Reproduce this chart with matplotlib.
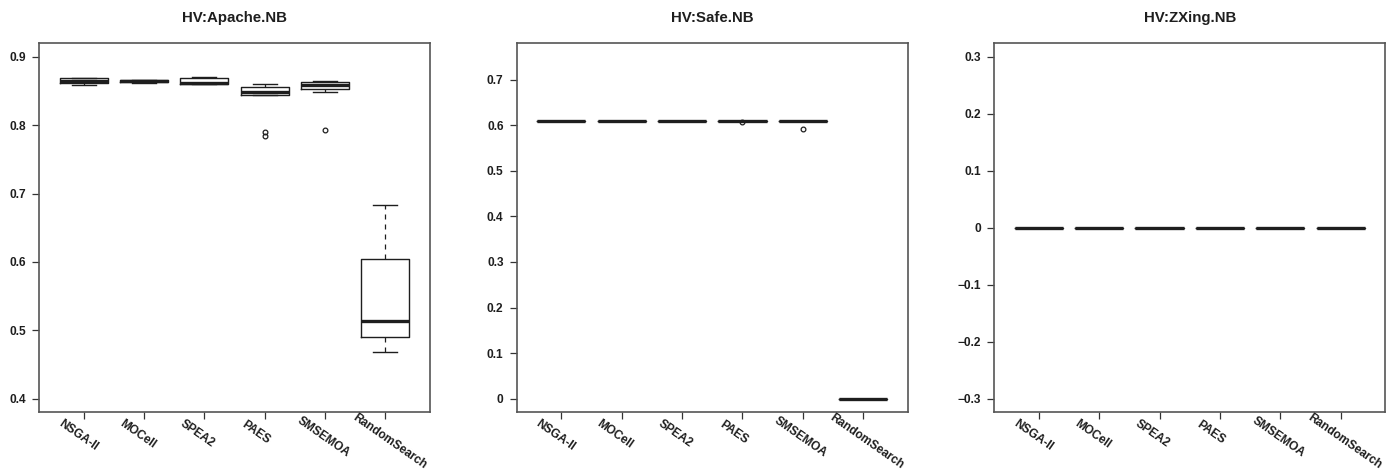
import numpy as np
import matplotlib.pyplot as plt
import matplotlib.transforms as mtransforms

plt.rcParams['font.family'] = ['Liberation Sans', 'DejaVu Sans']

algos = ["NSGA-II", "MOCell", "SPEA2", "PAES", "SMSEMOA", "RandomSearch"]
titles = ["HV:Apache.NB", "HV:Safe.NB", "HV:ZXing.NB"]

# Apache.NB : box stats
apache_whislo = [0.8585, 0.8625, 0.8600, 0.8448, 0.8482, 0.4689]
apache_q1 = [0.8624, 0.8630, 0.8605, 0.8448, 0.8536, 0.4899]
apache_med = [0.8655, 0.8648, 0.8615, 0.8487, 0.8585, 0.5139]
apache_q3 = [0.8685, 0.8665, 0.8685, 0.8565, 0.8633, 0.6038]
apache_whishi = [0.8685, 0.8668, 0.8702, 0.8604, 0.8648, 0.6830]
apache_fliers = [[], [], [], [0.7895, 0.7846], [0.7928], []]

# Safe.NB
safe_med = [0.609, 0.609, 0.609, 0.609, 0.609, 0.0]
safe_fliers = [[], [], [], [0.607], [0.592], []]

# ZXing.NB
zxing_med = [0.0, 0.0, 0.0, 0.0, 0.0, 0.0]

ylims = [(0.4, 0.9), (0.0, 0.75), (-0.3, 0.3)]
yticks = [[0.4, 0.5, 0.6, 0.7, 0.8, 0.9],
          [0, 0.1, 0.2, 0.3, 0.4, 0.5, 0.6, 0.7],
          [-0.3, -0.2, -0.1, 0, 0.1, 0.2, 0.3]]


def make_stats(lo, q1, med, q3, hi, fl):
    out = []
    for i in range(len(med)):
        out.append(dict(whislo=lo[i], q1=q1[i], med=med[i], q3=q3[i],
                        whishi=hi[i], fliers=fl[i]))
    return out


stats = [
    make_stats(apache_whislo, apache_q1, apache_med, apache_q3, apache_whishi, apache_fliers),
    make_stats(safe_med, safe_med, safe_med, safe_med, safe_med, safe_fliers),
    make_stats(zxing_med, zxing_med, zxing_med, zxing_med, zxing_med, [[]] * 6),
]

fig = plt.figure(figsize=(13.99, 4.72), dpi=100)
lefts = [39, 516.7, 994.3]
ink = '#1e1e1e'
frame = '#555555'

for k in range(3):
    ax = fig.add_axes([lefts[k] / 1399, 1 - 412.3 / 472, 391 / 1399, 369 / 472])
    pos = np.arange(1, 7)
    ax.bxp(stats[k], positions=pos, widths=0.8, showfliers=True,
           boxprops=dict(color=ink, linewidth=1.0),
           medianprops=dict(color=ink, linewidth=2.4, solid_capstyle='butt'),
           whiskerprops=dict(color=ink, linewidth=0.9, linestyle=(0, (4, 4))),
           capprops=dict(color=ink, linewidth=1.0),
           flierprops=dict(marker='o', markerfacecolor='none', markeredgecolor=ink,
                           markersize=3.4, markeredgewidth=0.9))
    lo, hi = ylims[k]
    r = hi - lo
    ax.set_ylim(lo - 0.04 * r, hi + 0.04 * r)
    ax.set_xlim(0.26, 6.74)
    ax.set_yticks(yticks[k])
    ax.set_yticklabels([('%g' % v).replace('-', '\u2212') for v in yticks[k]],
                       fontsize=8.6, fontweight='bold', color=ink)
    ax.set_xticks(pos)
    ax.set_xticklabels([])
    ax.tick_params(direction='out', length=5, width=0.9, color='#333333', pad=4.5)
    for s in ax.spines.values():
        s.set_color(frame)
        s.set_linewidth(1.2)
    ax.set_title(titles[k], fontsize=10.8, fontweight='bold', color=ink, pad=15.5)

    renderer = fig.canvas.get_renderer()
    ang = np.deg2rad(35)
    for i, lab in enumerate(algos):
        t = ax.text(pos[i], 0, lab, fontsize=8.6, fontweight='bold', color=ink,
                    transform=ax.get_xaxis_transform())
        w = t.get_window_extent(renderer).width
        f = 0.22
        dx = -12.6 - f * w * np.cos(ang)
        dy = -10.5 + f * w * np.sin(ang)
        t.set_transform(mtransforms.offset_copy(ax.get_xaxis_transform(), fig=fig,
                                                x=dx, y=dy, units='dots'))
        t.set_rotation(-35)
        t.set_rotation_mode('anchor')
        t.set_ha('left')
        t.set_va('top')
        t.set_clip_on(False)

fig.savefig('out.png', dpi=100)
